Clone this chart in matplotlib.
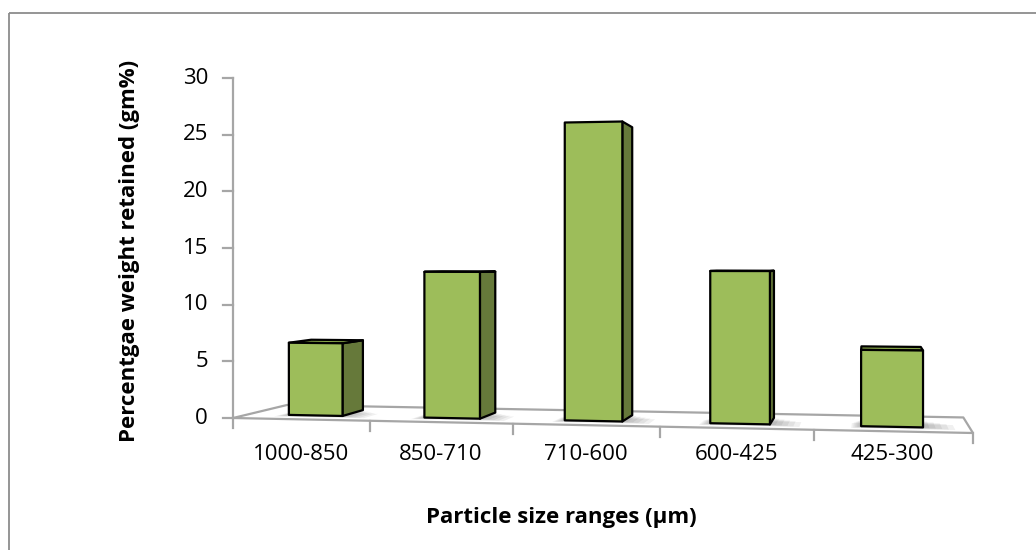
import matplotlib
matplotlib.use("Agg")
import matplotlib.pyplot as plt
from matplotlib.patches import Polygon, Rectangle

plt.rcParams['font.family'] = ['Open Sans', 'DejaVu Sans']

# datos
rangos = ['1000-850', '850-710', '710-600', '600-425', '425-300']
retenido = [6.5, 12.9, 25.9, 13.0, 6.4]
yticks = [0, 5, 10, 15, 20, 25, 30]

# colores estilo Excel
verde_frente = '#9dbd5a'
verde_lado = '#66793a'
verde_arriba = '#86a447'
gris = '#a6a6a6'


def proyectar(u, v, w):
    """Perspectiva simple: u = categoria, v = valor, w = profundidad (0 frente, 1 fondo)."""
    q = 1 - 0.0176 * u + 0.0929 * w
    x = (233 + 130.87 * u + 80.7 * w) / q
    y = (418 - 4.62 * u - 11.333 * v + 24.6 * w) / q
    return x, y


def cara(ax, puntos, color, z, lw=1.6, ec='black'):
    pts = [proyectar(*p) for p in puntos]
    ax.add_patch(Polygon(pts, closed=True, facecolor=color, edgecolor=ec,
                         linewidth=lw, joinstyle='round', zorder=z))


fig = plt.figure(figsize=(10.36, 5.5), dpi=100)
ax = fig.add_axes([0, 0, 1, 1])
ax.set_xlim(0, 1036)
ax.set_ylim(550, 0)
ax.axis('off')

# marco exterior
ax.add_patch(Rectangle((9, 13), 1100, 600, fill=False, edgecolor='#8c8c8c', linewidth=1.3))

n = len(rangos)

# piso
cara(ax, [(0, 0, 0), (n, 0, 0), (n, 0, 1), (0, 0, 1)], 'white', 1, lw=1.6, ec=gris)

# eje y
x0, y0 = proyectar(0, 0, 0)
x1, y1 = proyectar(0, yticks[-1], 0)
ax.plot([x0, x1], [y0, y1], color=gris, lw=1.6, zorder=2)
for t in yticks:
    xt, yt = proyectar(0, t, 0)
    ax.plot([xt - 10, xt], [yt, yt], color=gris, lw=1.6, zorder=2)
    ax.text(xt - 25, yt, str(t), ha='right', va='center', fontsize=16)

# eje x
for i in range(n + 1):
    xt, yt = proyectar(i, 0, 0)
    ax.plot([xt, xt], [yt, yt + 10], color=gris, lw=1.6, zorder=2)
for i, nombre in enumerate(rangos):
    xt, yt = proyectar(i + 0.5, 0, 0)
    ax.text(xt, 455, nombre, ha='center', va='center', fontsize=16)

# barras
w0, w1 = 0.28, 0.72
for i, val in enumerate(retenido):
    u0, u1 = i + 0.3, i + 0.7
    # sombra difusa en el piso, hacia la derecha (sin salir del piso)
    for k in range(6):
        d = 0.025 * k
        wa = max(w0 - d, 0.06)
        cara(ax, [(u0 - d / 2, 0, wa), (u1 + d * 1.6, 0, wa),
                  (u1 + d * 1.6, 0, w1 - d * 2), (u0 - d / 2, 0, w1 - d * 2)],
             (0, 0, 0, 0.06), 2, lw=0, ec='none')
    # lado derecho
    if proyectar(u1, 0, w1)[0] > proyectar(u1, 0, w0)[0]:
        cara(ax, [(u1, 0, w0), (u1, 0, w1), (u1, val, w1), (u1, val, w0)], verde_lado, 3)
    # lado izquierdo
    if proyectar(u0, 0, w1)[0] < proyectar(u0, 0, w0)[0]:
        cara(ax, [(u0, 0, w0), (u0, 0, w1), (u0, val, w1), (u0, val, w0)], verde_lado, 3)
    # tapa
    if proyectar(u0, val, w1)[1] < proyectar(u0, val, w0)[1]:
        cara(ax, [(u0, val, w0), (u1, val, w0), (u1, val, w1), (u0, val, w1)], verde_arriba, 3)
    # frente
    cara(ax, [(u0, 0, w0), (u1, 0, w0), (u1, val, w0), (u0, val, w0)], verde_frente, 4)

ax.text(561, 517, 'Particle size ranges (µm)', ha='center', va='center',
        fontsize=16, fontweight='bold')
ax.text(130, 251, 'Percentgae weight retained (gm%)', ha='center', va='center',
        rotation=90, fontsize=16, fontweight='bold')

fig.savefig('out.png', dpi=100)
